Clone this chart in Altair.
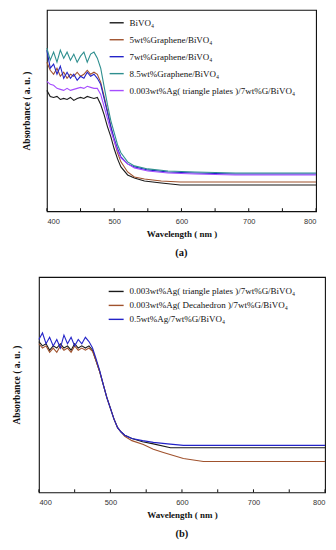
import altair as alt
import pandas as pd

# ---------------- Panel (a) data ----------------
A_SERIES = ["BiVO₄", "5wt%Graphene/BiVO₄", "7wt%Graphene/BiVO₄",
            "8.5wt%Graphene/BiVO₄", "0.003wt%Ag( triangle plates )/7wt%G/BiVO₄"]
A_COLORS = ["#1a1a1a", "#a0522d", "#2323c8", "#2f8f8f", "#a64dff"]

A_LOW_WL = [400, 405, 410, 415, 420, 425, 430, 435, 440, 445, 450, 455, 460, 465, 470, 475,
            480, 485, 490, 495, 500, 505, 510, 520, 530, 545, 570, 598, 800]
A_HIGH_WL = [400, 405, 410, 415, 420, 425, 430, 435, 440, 445, 450, 455, 460, 465, 470, 475,
             480, 485, 490, 495, 500, 505, 510, 520, 530, 550, 580, 620, 680, 800]

A_BLACK = [0.60, 0.57, 0.565, 0.57, 0.555, 0.56, 0.555, 0.565, 0.55, 0.56, 0.565, 0.56, 0.57, 0.565, 0.56, 0.565,
           0.53, 0.48, 0.42, 0.37, 0.31, 0.26, 0.22, 0.18, 0.165, 0.15, 0.14, 0.13, 0.13]
A_BROWN = [0.74, 0.70, 0.68, 0.71, 0.67, 0.69, 0.66, 0.68, 0.67, 0.69, 0.67, 0.68, 0.70, 0.68, 0.69, 0.68,
           0.64, 0.57, 0.50, 0.42, 0.35, 0.29, 0.245, 0.195, 0.17, 0.16, 0.15, 0.145, 0.145]
A_BLUE = [0.80, 0.71, 0.73, 0.68, 0.72, 0.66, 0.69, 0.66, 0.68, 0.65, 0.67, 0.66, 0.69, 0.67, 0.68, 0.66,
          0.63, 0.56, 0.49, 0.42, 0.36, 0.31, 0.27, 0.235, 0.22, 0.205, 0.195, 0.19, 0.185, 0.185]
A_TEAL = [0.81, 0.75, 0.79, 0.74, 0.80, 0.76, 0.79, 0.75, 0.78, 0.74, 0.77, 0.79, 0.74, 0.78, 0.79, 0.76,
          0.71, 0.62, 0.53, 0.45, 0.39, 0.33, 0.29, 0.245, 0.225, 0.21, 0.20, 0.195, 0.19, 0.19]
A_PURPLE = [0.645, 0.63, 0.625, 0.61, 0.605, 0.60, 0.61, 0.60, 0.605, 0.61, 0.615, 0.61, 0.62, 0.615, 0.61, 0.61,
            0.58, 0.52, 0.46, 0.40, 0.35, 0.30, 0.265, 0.235, 0.215, 0.20, 0.19, 0.185, 0.18, 0.18]

# ---------------- Panel (b) data ----------------
B_SERIES = ["0.003wt%Ag( triangle plates )/7wt%G/BiVO₄",
            "0.003wt%Ag( Decahedron )/7wt%G/BiVO₄",
            "0.5wt%Ag/7wt%G/BiVO₄"]
B_COLORS = ["#1a1a1a", "#a0522d", "#2323c8"]

B_BLACK_WL = [400, 405, 410, 415, 420, 425, 430, 435, 440, 445, 450, 455, 460, 465, 470,
              475, 480, 485, 490, 495, 500, 505, 510, 515, 520, 530, 545, 560, 584, 800]
B_BLACK = [0.70, 0.68, 0.69, 0.66, 0.68, 0.67, 0.69, 0.67, 0.68, 0.66, 0.69, 0.67, 0.68, 0.67, 0.68,
           0.66, 0.61, 0.56, 0.50, 0.44, 0.39, 0.34, 0.30, 0.28, 0.265, 0.25, 0.235, 0.225, 0.207, 0.207]
B_BROWN_WL = [400, 405, 410, 415, 420, 425, 430, 435, 440, 445, 450, 455, 460, 465, 470,
              475, 480, 485, 490, 495, 500, 505, 510, 515, 520, 530, 546, 560, 574, 602, 630, 800]
B_BROWN = [0.69, 0.67, 0.68, 0.65, 0.67, 0.65, 0.68, 0.66, 0.67, 0.65, 0.68, 0.66, 0.67, 0.66, 0.67,
           0.655, 0.61, 0.56, 0.50, 0.44, 0.39, 0.34, 0.30, 0.28, 0.26, 0.24, 0.222, 0.20, 0.185, 0.157, 0.143, 0.143]
B_BLUE_WL = [400, 405, 410, 415, 420, 425, 430, 435, 440, 445, 450, 455, 460, 465, 470,
             475, 480, 485, 490, 495, 500, 505, 510, 515, 520, 530, 545, 560, 580, 602, 800]
B_BLUE = [0.71, 0.74, 0.69, 0.72, 0.68, 0.71, 0.67, 0.73, 0.69, 0.72, 0.68, 0.71, 0.69, 0.72, 0.70,
          0.67, 0.62, 0.565, 0.50, 0.44, 0.39, 0.34, 0.30, 0.28, 0.265, 0.25, 0.24, 0.232, 0.225, 0.218, 0.218]

TICKS = [400, 450, 500, 550, 600, 650, 700, 750, 800]
LABELS = [400, 500, 600, 700, 800]

SERIF = "Liberation Serif"
SANS = "Liberation Sans"


def frame(names, wls, vals, field):
    rows = []
    for n, w, v in zip(names, wls, vals):
        for a, b in zip(w, v):
            rows.append({"wl": a, "abs": b, field: n})
    return pd.DataFrame(rows)


df_a = frame(A_SERIES, [A_LOW_WL, A_LOW_WL, A_HIGH_WL, A_HIGH_WL, A_HIGH_WL],
             [A_BLACK, A_BROWN, A_BLUE, A_TEAL, A_PURPLE], "sa")
df_b = frame(B_SERIES, [B_BLACK_WL, B_BROWN_WL, B_BLUE_WL],
             [B_BLACK, B_BROWN, B_BLUE], "sb")
df_t = pd.DataFrame({"t": TICKS})


def panel(df, field, series, colors, width, height, caption, ypad, lx, ly, symsize, rowpad):
    x = alt.X("wl:Q", scale=alt.Scale(domain=[400, 800], nice=False),
              axis=alt.Axis(values=LABELS, format="d", ticks=False, domain=False, grid=False,
                            labelFont=SANS, labelFontSize=7.5, labelColor="#333",
                            labelPadding=6, title="Wavelength ( nm )", titleFont=SERIF,
                            titleFontSize=9, titleFontWeight="bold", titlePadding=5,
                            titleColor="#111"))
    y = alt.Y("abs:Q", scale=alt.Scale(domain=[0, 1], nice=False),
              axis=alt.Axis(labels=False, ticks=False, domain=False, grid=False,
                            title="Absorbance ( a. u. )", titleFont=SERIF, titleFontSize=9.5,
                            titleFontWeight="bold", titlePadding=ypad, titleColor="#111"))
    lines = alt.Chart(df).mark_line(strokeWidth=1.1).encode(
        x=x, y=y,
        color=alt.Color(f"{field}:N", sort=series,
                        scale=alt.Scale(domain=series, range=colors),
                        legend=alt.Legend(title=None, orient="none", legendX=lx, legendY=ly,
                                          symbolType="stroke", symbolSize=symsize,
                                          symbolStrokeWidth=1.4, labelFont=SERIF,
                                          labelFontSize=9, labelColor="#111", labelLimit=400,
                                          labelOffset=5, rowPadding=rowpad, padding=0)),
    )
    ticks = alt.Chart(df_t).mark_rule(color="#111", strokeWidth=1).encode(
        x=alt.X("t:Q", scale=alt.Scale(domain=[400, 800], nice=False)),
        y=alt.value(height), y2=alt.value(height - 3))
    return alt.layer(lines, ticks).properties(
        width=width, height=height,
        title=alt.TitleParams(caption, orient="bottom", anchor="middle", font=SERIF,
                              fontSize=10.5, fontWeight="bold", color="#111", offset=9))


def spacer(w):
    return alt.Chart(df_t.head(1)).mark_text(text="", opacity=0).encode(
        x=alt.value(0), y=alt.value(0)
    ).properties(width=w, height=1, view=alt.ViewBackground(stroke="transparent"))


# legend x/y are measured from the left edge of each row (spacer start) and plot top
pa = panel(df_a, "sa", A_SERIES, A_COLORS, 270, 202, "(a)", 15.5, 100, 5, 200, 4)
pb = panel(df_b, "sb", B_SERIES, B_COLORS, 287, 216, "(b)", 17, 99, 6, 225, 0)

row_a = alt.hconcat(spacer(10), pa, spacing=0)
row_b = alt.hconcat(spacer(1), pb, spacing=0)

chart = alt.vconcat(row_a, row_b, spacing=11).resolve_scale(
    color="independent").resolve_legend(color="independent").properties(
    padding={"left": 0, "top": -6, "right": 0, "bottom": 0}
).configure_view(stroke="#111", strokeWidth=1.1)

chart.save("out.html", embed_options={"renderer": "svg", "actions": False})
